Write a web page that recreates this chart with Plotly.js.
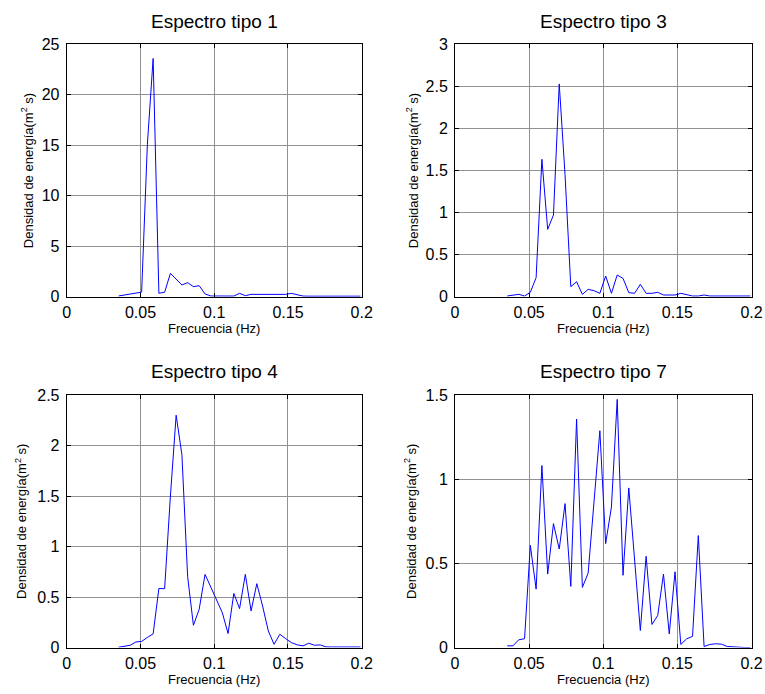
<!DOCTYPE html>
<html><head><meta charset="utf-8">
<script src="https://cdn.plot.ly/plotly-3.0.1.min.js"></script>
<style>html,body{margin:0;padding:0;background:#fff}</style>
</head><body><div id="chart" style="width:765px;height:694px"></div>
<script>
// Frequencies (Hz)
const freq = [0.0352,0.0391,0.0430,0.0469,0.0508,0.0547,0.0586,0.0625,0.0664,0.0703,
  0.0742,0.0781,0.0820,0.0859,0.0898,0.0938,0.0977,0.1016,0.1055,0.1094,
  0.1133,0.1172,0.1211,0.1250,0.1289,0.1328,0.1367,0.1406,0.1445,0.1484,
  0.1523,0.1563,0.1602,0.1641,0.1680,0.1719,0.1758,0.1797,0.1836,0.1875,
  0.1914,0.1953,0.1992];
// Energy density (m^2 s)
const tipo1 = [0.07,0.16,0.25,0.35,0.45,15.1,23.6,0.34,0.44,2.31,
  1.72,1.16,1.39,0.99,1.09,0.27,0.07,0.05,0.05,0.05,
  0.06,0.33,0.1,0.23,0.23,0.23,0.23,0.23,0.23,0.23,
  0.33,0.16,0.06,0.05,0.05,0.05,0.05,0.05,0.05,0.05,
  0.05,0.05,0.05];
const tipo3 = [0.008,0.016,0.028,0.008,0.052,0.226,1.633,0.80,0.971,2.529,
  1.45,0.119,0.178,0.028,0.087,0.071,0.04,0.246,0.04,0.258,
  0.218,0.048,0.04,0.147,0.04,0.04,0.052,0.02,0.02,0.02,
  0.04,0.02,0.008,0.008,0.02,0.008,0.008,0.008,0.008,0.008,
  0.008,0.008,0.008];
const tipo4 = [0.003,0.009,0.022,0.055,0.06,0.10,0.135,0.585,0.582,1.50,
  2.30,1.91,0.70,0.22,0.378,0.724,0.60,0.476,0.345,0.138,
  0.536,0.385,0.724,0.362,0.632,0.411,0.164,0.032,0.131,0.088,
  0.049,0.026,0.016,0.042,0.022,0.026,0.006,0.005,0.005,0.005,
  0.005,0.005,0.005];
const tipo7 = [0.01,0.01,0.046,0.052,0.607,0.347,1.081,0.436,0.736,0.585,
  0.855,0.363,1.357,0.357,0.442,0.86,1.288,0.617,0.835,1.474,
  0.429,0.948,0.5,0.101,0.542,0.137,0.19,0.436,0.081,0.45,
  0.018,0.052,0.066,0.665,0.006,0.018,0.022,0.02,0.006,0.006,
  0.002,0.0,0.0];

const titles = ['Espectro tipo 1','Espectro tipo 3','Espectro tipo 4','Espectro tipo 7'];
const xTitle = 'Frecuencia (Hz)';
const yTitle = 'Densidad de energía(m<sup>2</sup> s)';
const xTickVals = [0,0.05,0.1,0.15,0.2];
const xTickText = ['0','0.05','0.1','0.15','0.2'];
const yTicks1 = [0,5,10,15,20,25];
const yTicks3 = [0,0.5,1,1.5,2,2.5,3];
const yTicks4 = [0,0.5,1,1.5,2,2.5];
const yTicks7 = [0,0.5,1,1.5];

const FONT = 'Liberation Sans, Arial, Helvetica, sans-serif';
const series = [tipo1, tipo3, tipo4, tipo7];
const yTicks = [yTicks1, yTicks3, yTicks4, yTicks7];
const yRanges = [[0,25],[0,3],[0,2.5],[0,1.5]];
const xDomains = [[0.0872,0.4728],[0.5948,0.9824],[0.0872,0.4728],[0.5948,0.9824]];
const yDomains = [[0.5725,0.9362],[0.5725,0.9362],[0.0670,0.4308],[0.0670,0.4308]];
const yStandoff = [5, 4, 7, 6];
const titleY = [0.9683, 0.9683, 0.4640, 0.4640];

const traces = series.map((s, i) => ({
  type: 'scatter', mode: 'lines', x: freq, y: s,
  xaxis: i === 0 ? 'x' : 'x' + (i + 1), yaxis: i === 0 ? 'y' : 'y' + (i + 1),
  line: {color: 'rgb(0,0,255)', width: 1}, showlegend: false, hoverinfo: 'x+y'
}));

const layout = {
  width: 765, height: 694, paper_bgcolor: '#fff', plot_bgcolor: '#fff',
  margin: {l: 0, r: 0, t: 0, b: 0}, showlegend: false,
  font: {family: FONT, color: '#000', size: 16},
  annotations: []
};
const axCommon = {
  showline: true, linecolor: '#000', linewidth: 1, mirror: 'ticks',
  ticks: 'inside', ticklen: 4, tickcolor: '#000', tickwidth: 1,
  showgrid: true, gridcolor: 'rgb(145,145,145)', gridwidth: 1,
  zeroline: false, automargin: false, fixedrange: true,
  tickfont: {family: FONT, size: 16, color: '#000'}
};
for (let i = 0; i < 4; i++) {
  const sx = i === 0 ? '' : String(i + 1);
  layout['xaxis' + sx] = Object.assign({}, axCommon, {
    domain: xDomains[i], anchor: 'y' + sx, range: [0, 0.2],
    tickmode: 'array', tickvals: xTickVals, ticktext: xTickText,
    ticklabelstandoff: 1,
    title: {text: xTitle, font: {family: FONT, size: 13, color: '#000'}, standoff: 2}
  });
  layout['yaxis' + sx] = Object.assign({}, axCommon, {
    domain: yDomains[i], anchor: 'x' + sx, range: yRanges[i],
    tickmode: 'array', tickvals: yTicks[i],
    ticktext: yTicks[i].map(v => String(v)),
    ticklabelstandoff: 3,
    title: {text: yTitle, font: {family: FONT, size: 13, color: '#000'}, standoff: yStandoff[i]}
  });
  layout.annotations.push({
    text: titles[i], xref: 'paper', yref: 'paper',
    x: (xDomains[i][0] + xDomains[i][1]) / 2, y: titleY[i],
    xanchor: 'center', yanchor: 'middle', showarrow: false,
    font: {family: FONT, size: 19, color: '#000'}
  });
}
Plotly.newPlot('chart', traces, layout, {displayModeBar: false, staticPlot: true});
</script></body></html>
